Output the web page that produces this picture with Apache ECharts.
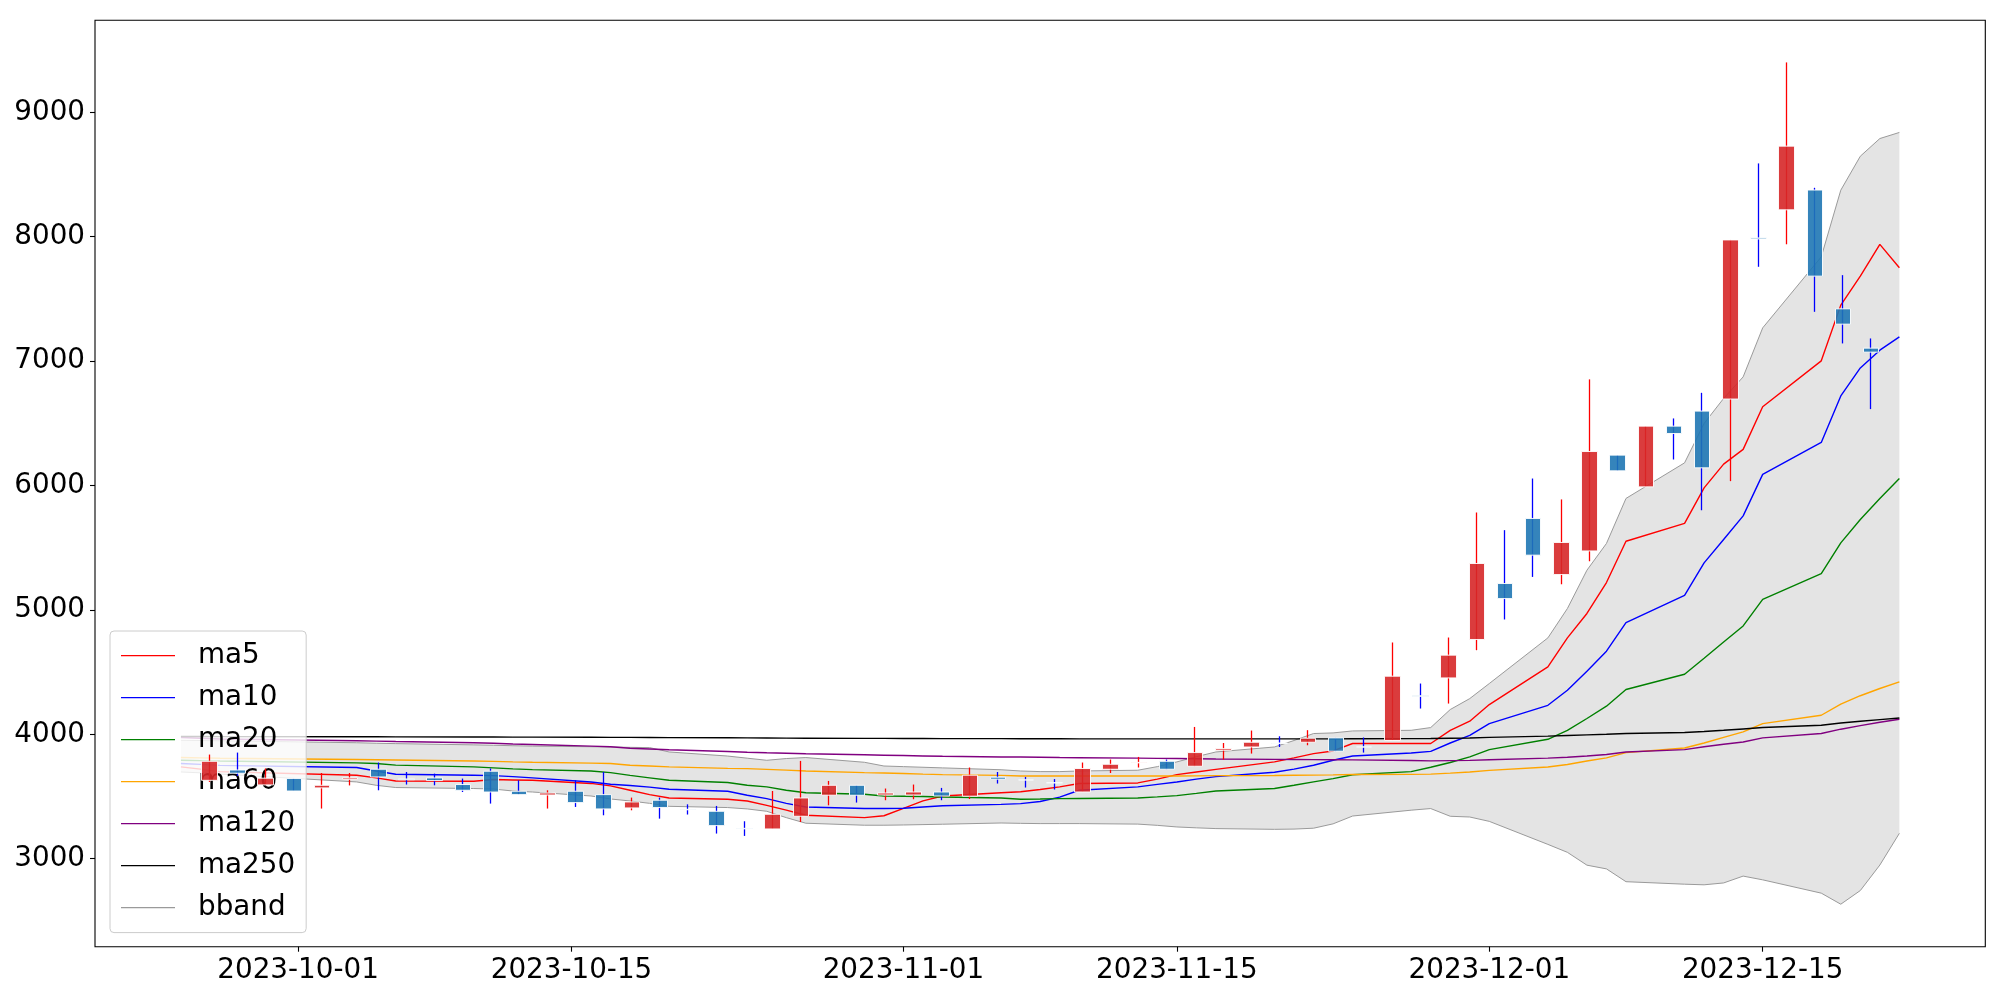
<!DOCTYPE html>
<html>
<head>
<meta charset="utf-8">
<script src="https://cdn.jsdelivr.net/npm/echarts@6/dist/echarts.min.js"></script>
<style>
  html, body { margin: 0; padding: 0; background: #fff; }
  #chart { width: 2000px; height: 1000px; }
</style>
</head>
<body>
<div id="chart"></div>
<script>
// trading days
const dates = ['2023-09-25','2023-09-26','2023-09-27','2023-10-04','2023-10-05','2023-10-06','2023-10-10','2023-10-11','2023-10-12','2023-10-13',
  '2023-10-16','2023-10-17','2023-10-18','2023-10-19','2023-10-20','2023-10-23','2023-10-24','2023-10-25','2023-10-26','2023-10-27',
  '2023-10-30','2023-10-31','2023-11-01','2023-11-02','2023-11-03','2023-11-06','2023-11-07','2023-11-08','2023-11-09','2023-11-10',
  '2023-11-13','2023-11-14','2023-11-15','2023-11-16','2023-11-17','2023-11-20','2023-11-21','2023-11-22','2023-11-23','2023-11-24',
  '2023-11-27','2023-11-28','2023-11-29','2023-11-30','2023-12-01','2023-12-04','2023-12-05','2023-12-06','2023-12-07','2023-12-08',
  '2023-12-11','2023-12-12','2023-12-13','2023-12-14','2023-12-15','2023-12-18','2023-12-19','2023-12-20','2023-12-21','2023-12-22']

// candles (drawn by position 0..59)
const open = [3630,3713,3593,3645,3569,3638,3719,3641,3649,3596, 3703,3542,3512,3542,3515,3408,3470,3397,3381,3244,
  3239,3341,3510,3590,3512,3512,3536,3502,3655,3634, 3612,3536,3719,3770,3783,3743,3872,3898,3930,3936,
  3971,3900,3950,4310,4453,4762,5212,5735,5284,5474, 6244,5989,6477,6598,6695,7990,8216,8375,7420,7104]
const close = [3783,3687,3647,3544,3590,3649,3657,3635,3628,3550, 3536,3515,3528,3451,3400,3456,3411,3393,3266,3240,
  3357,3488,3590,3510,3528,3536,3504,3671,3639,3632, 3608,3725,3759,3774,3719,3853,3885,3936,3926,3968,
  3864,3896,4467,4305,4636,5373,5091,5440,5542,6273, 6118,6477,6418,6142,7974,7982,8728,7683,7297,7072]
const low = [3617,3665,3590,3544,3403,3589,3550,3596,3590,3536, 3443,3515,3403,3416,3349,3389,3322,3355,3202,3183,
  3239,3295,3429,3451,3470,3478,3470,3480,3604,3572, 3556,3536,3689,3733,3719,3743,3797,3845,3898,3912,
  3864,3853,3950,4207,4247,4676,4923,5265,5206,5391, 6118,5989,6209,5801,6035,7758,7939,7396,7142,6614]
const high = [3837,3853,3725,3645,3689,3689,3773,3697,3684,3644, 3725,3630,3550,3630,3697,3491,3491,3437,3424,3301,
  3544,3786,3625,3590,3564,3596,3569,3733,3697,3657, 3640,3773,3797,3818,3797,4059,3930,4030,3984,4033,
  3971,3974,4738,4408,4778,5783,5641,6056,5888,6853, 6244,6477,6539,6745,7974,8589,9401,8393,7691,7182]

// moving averages
const ma5 = [3738,3720,3700,3671,3650,3625,3622,3636,3633,3630, 3605,3585,3550,3515,3488,3478,3464,3429,3390,3349,
  3330,3345,3405,3465,3504,3530,3538,3556,3577,3604, 3609,3640,3676,3697,3718,3778,3810,3845,3866,3926,
  3926,3926,4032,4105,4239,4542,4775,4971,5220,5552, 5695,5981,6172,6290,6633,7002,7450,7683,7938,7750]
const ma10 = [3765,3758,3750,3733,3705,3679,3671,3668,3660,3650, 3617,3598,3588,3575,3558,3542,3510,3483,3445,3416,
  3403,3403,3405,3415,3425,3437,3443,3460,3495,3550, 3577,3597,3617,3640,3660,3695,3720,3751,3791,3825,
  3850,3863,3930,3992,4086,4233,4354,4507,4668,4898, 5116,5378,5566,5756,6089,6346,6720,6945,7088,7195]
const ma20 = [3791,3788,3785,3770,3765,3752,3738,3730,3722,3716, 3705,3692,3670,3650,3630,3612,3590,3577,3550,3530,
  3518,3504,3502,3500,3496,3488,3478,3480,3483,3484, 3488,3497,3507,3525,3544,3564,3590,3617,3644,3675,
  3700,3735,3773,3818,3877,3960,4032,4127,4226,4360, 4483,4611,4742,4871,5084,5292,5539,5727,5896,6056]
const ma60 = [3813,3810,3807,3797,3795,3793,3785,3782,3778,3775, 3768,3765,3751,3745,3738,3726,3724,3718,3712,3705,
  3692,3689,3685,3680,3676,3670,3665,3665,3665,3665, 3665,3665,3665,3666,3668,3669,3671,3672,3674,3677,
  3678,3680,3688,3697,3710,3737,3757,3785,3810,3853, 3890,3930,3975,4019,4086,4153,4242,4310,4368,4421]
const ma120 = [3974,3968,3962,3948,3945,3942,3932,3928,3922,3918, 3905,3900,3888,3882,3876,3862,3856,3851,3847,3843,
  3835,3832,3829,3826,3823,3818,3817,3815,3813,3812, 3808,3806,3805,3803,3801,3798,3797,3796,3795,3794,
  3789,3786,3788,3790,3795,3808,3815,3825,3837,3858, 3877,3900,3920,3938,3971,4006,4041,4070,4097,4121]
const ma250 = [3982,3982,3981,3980,3980,3979,3978,3978,3977,3977, 3976,3975,3975,3974,3973,3972,3971,3970,3969,3968,
  3967,3967,3966,3966,3965,3965,3964,3964,3964,3963, 3963,3963,3963,3963,3963,3963,3963,3963,3963,3964,
  3965,3966,3968,3970,3975,3985,3990,3995,4000,4006, 4014,4022,4032,4043,4054,4073,4091,4105,4118,4131]

// bollinger band
const bbUpper = [3952,3950,3948,3932,3928,3925,3915,3912,3908,3905, 3900,3898,3895,3893,3858,3825,3808,3791,3805,3813,
  3775,3745,3740,3735,3730,3715,3705,3700,3700,3705, 3711,3740,3778,3820,3858,3898,3950,4006,4011,4027,
  4032,4054,4199,4287,4408,4775,5011,5319,5534,5896, 6182,6499,6700,6873,7267,7838,8374,8647,8789,8838]
const bbLower = [3697,3690,3680,3617,3590,3572,3564,3560,3544,3536, 3504,3480,3464,3445,3421,3411,3400,3381,3330,3285,
  3269,3269,3271,3274,3277,3287,3284,3282,3282,3282, 3278,3268,3255,3248,3242,3236,3238,3245,3280,3343,
  3390,3403,3341,3335,3300,3115,3051,2948,2918,2815, 2795,2790,2805,2860,2830,2723,2634,2744,2949,3204]

const yTicks = [3000, 4000, 5000, 6000, 7000, 8000, 9000]
const xTickDates = ['2023-10-01', '2023-10-15', '2023-11-01', '2023-11-15', '2023-12-01', '2023-12-15']

function toTime(s) {
  const p = s.split('-').map(Number)
  return new Date(p[0], p[1] - 1, p[2]).getTime()
}
function pad(n) { return n < 10 ? '0' + n : '' + n }
function fmtDate(v) {
  const d = new Date(v)
  return d.getFullYear() + '-' + pad(d.getMonth() + 1) + '-' + pad(d.getDate())
}

const times = dates.map(toTime)
const span = times[times.length - 1] - times[0]
const font = 'DejaVu Sans'

const chart = echarts.init(document.getElementById('chart'))

function lineSeries(name, values, color, width, z) {
  return {
    name: name,
    type: 'line',
    xAxisIndex: 0,
    data: times.map((t, i) => [t, values[i]]),
    symbol: 'none',
    showSymbol: false,
    lineStyle: { color: color, width: width },
    itemStyle: { color: color },
    z: z || 3,
    silent: true
  }
}

const legendNames = ['ma5', 'ma10', 'ma20', 'ma60', 'ma120', 'ma250', 'bband']

const option = {
  animation: false,
  backgroundColor: '#ffffff',
  grid: {
    left: 95, right: 14.7, top: 20.3, bottom: 53.3,
    show: true, borderColor: '#000', borderWidth: 1.1, backgroundColor: 'transparent'
  },
  legend: {
    data: legendNames.map(n => ({ name: n, icon: 'rect' })),
    orient: 'vertical',
    left: 110, top: 631,
    padding: [10.6, 11, 11, 11],
    itemWidth: 54, itemHeight: 1.4, itemGap: 14,
    backgroundColor: 'rgba(255,255,255,0.8)',
    borderColor: '#cccccc', borderWidth: 1, borderRadius: 4,
    textStyle: { fontFamily: font, fontSize: 27.8, color: '#000', lineHeight: 28, padding: [0, 0, 0, 18] },
    z: 4
  },
  xAxis: [
    {
      // dates as timestamps on a linear axis
      type: 'value',
      min: times[0] - span * 0.05,
      max: times[times.length - 1] + span * 0.05,
      axisLine: { show: false, onZero: false },
      splitLine: { show: false },
      axisTick: { show: true, length: 5, lineStyle: { color: '#000', width: 1.1 }, customValues: xTickDates.map(toTime) },
      axisLabel: {
        customValues: xTickDates.map(toTime),
        formatter: fmtDate,
        fontFamily: font, fontSize: 27.8, color: '#000', margin: 10
      }
    },
    { type: 'value', min: -4.06, max: 63.05, show: false, axisLine: { onZero: false } }
  ],
  yAxis: {
    type: 'value',
    min: 2292.5, max: 9739.5,
    axisLine: { show: false, onZero: false },
    splitLine: { show: false },
    axisTick: { show: true, length: 5, lineStyle: { color: '#000', width: 1.1 }, customValues: yTicks },
    axisLabel: { customValues: yTicks, formatter: v => String(v), fontFamily: font, fontSize: 27.8, color: '#000', margin: 10 }
  },
  series: [
    lineSeries('bband', bbUpper, '#9a9a9a', 1, 3),
    lineSeries('bband', bbLower, '#9a9a9a', 1, 3),
    {
      // shaded area between the bands
      name: 'bband', type: 'custom', silent: true, z: 1,
      data: times.map((t, i) => [t, bbLower[i], bbUpper[i]]),
      encode: { x: 0, y: [1, 2] },
      renderItem: function (params, api) {
        if (params.dataIndex !== 0) return null
        const pts = []
        for (let i = 0; i < times.length; i++) pts.push(api.coord([times[i], bbUpper[i]]))
        for (let i = times.length - 1; i >= 0; i--) pts.push(api.coord([times[i], bbLower[i]]))
        return { type: 'polygon', shape: { points: pts }, style: { fill: '#e4e4e4' } }
      }
    },
    lineSeries('ma5', ma5, '#ff0000', 1.4),
    lineSeries('ma10', ma10, '#0000ff', 1.4),
    lineSeries('ma20', ma20, '#008000', 1.4),
    lineSeries('ma60', ma60, '#ffa500', 1.4),
    lineSeries('ma120', ma120, '#800080', 1.4),
    lineSeries('ma250', ma250, '#000000', 1.4),
    // wicks: full high-low line
    {
      name: 'wick', type: 'candlestick', xAxisIndex: 1, silent: true, z: 5,
      barWidth: 0.5,
      encode: { x: 0, y: [1, 2, 3, 4] },
      data: open.map((o, i) => [i, o, close[i], low[i], high[i]]),
      itemStyle: { color: 'rgba(0,0,0,0)', color0: 'rgba(0,0,0,0)', borderColor: '#ff0000', borderColor0: '#0000ff', borderWidth: 1.3 }
    },
    // bodies
    {
      name: 'body', type: 'candlestick', xAxisIndex: 1, silent: true, z: 6,
      barWidth: 16,
      encode: { x: 0, y: [1, 2, 3, 4] },
      data: open.map((o, i) => [i, o, close[i], Math.min(o, close[i]), Math.max(o, close[i])]),
      itemStyle: { color: '#d62728', color0: '#1f77b4', borderColor: '#ffffff', borderColor0: '#ffffff', borderWidth: 1, opacity: 0.9 }
    }
  ]
}

chart.setOption(option)
</script>
</body>
</html>
